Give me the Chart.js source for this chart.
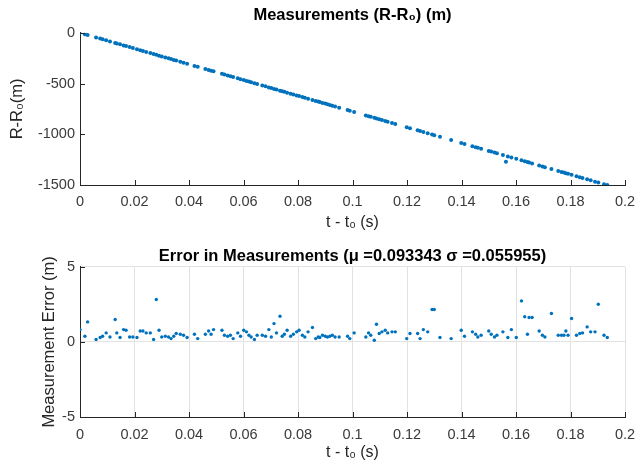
<!DOCTYPE html>
<html>
<head>
<meta charset="utf-8">
<script src="https://cdn.jsdelivr.net/npm/chart.js@4.4.1/dist/chart.umd.min.js"></script>
<style>
  body { margin: 0; background: #fff; }
  .box { position: absolute; left: 0; width: 637px; height: 235px; }
</style>
</head>
<body>
<div class="box" style="top:0"><canvas id="rangeChart"></canvas></div>
<div class="box" style="top:235px"><canvas id="errorChart"></canvas></div>
<script>
// sample times t - t0 (s)
const timeS = [
  0.0000, 0.0018, 0.0028, 0.0059, 0.0074, 0.0083, 0.0096, 0.0110, 0.0129, 0.0135,
  0.0147, 0.0160, 0.0169, 0.0182, 0.0194, 0.0209, 0.0221, 0.0231, 0.0243, 0.0258,
  0.0270, 0.0280, 0.0290, 0.0300, 0.0313, 0.0325, 0.0334, 0.0344, 0.0353, 0.0368,
  0.0380, 0.0393, 0.0420, 0.0432, 0.0460, 0.0472, 0.0481, 0.0490, 0.0521, 0.0530,
  0.0542, 0.0552, 0.0562, 0.0579, 0.0589, 0.0601, 0.0611, 0.0620, 0.0628, 0.0640,
  0.0650, 0.0669, 0.0681, 0.0693, 0.0702, 0.0712, 0.0721, 0.0734, 0.0742, 0.0750,
  0.0760, 0.0773, 0.0783, 0.0795, 0.0804, 0.0816, 0.0825, 0.0837, 0.0853, 0.0865,
  0.0874, 0.0880, 0.0890, 0.0900, 0.0908, 0.0917, 0.0926, 0.0936, 0.0951, 0.0982,
  0.0990, 0.1006, 0.1049, 0.1059, 0.1067, 0.1080, 0.1088, 0.1098, 0.1108, 0.1120,
  0.1129, 0.1145, 0.1157, 0.1199, 0.1211, 0.1239, 0.1248, 0.1260, 0.1276, 0.1292,
  0.1300, 0.1321, 0.1362, 0.1399, 0.1411, 0.1440, 0.1452, 0.1460, 0.1472, 0.1500,
  0.1509, 0.1521, 0.1530, 0.1552, 0.1570, 0.1583, 0.1601, 0.1620, 0.1632, 0.1642,
  0.1648, 0.1659, 0.1685, 0.1697, 0.1706, 0.1730, 0.1755, 0.1767, 0.1776, 0.1783,
  0.1791, 0.1804, 0.1822, 0.1834, 0.1844, 0.1861, 0.1874, 0.1890, 0.1902, 0.1923,
  0.1935
];

// measured R - R0 (m)
const rangeM = [
     0,   -14,   -22,   -46,   -57,   -64,   -74,   -85,  -100,  -105,
  -114,  -124,  -131,  -141,  -151,  -162,  -171,  -179,  -189,  -200,
  -210,  -217,  -225,  -233,  -243,  -252,  -259,  -267,  -274,  -286,
  -295,  -305,  -326,  -335,  -357,  -366,  -373,  -380,  -404,  -411,
  -421,  -428,  -436,  -449,  -457,  -466,  -474,  -481,  -487,  -497,
  -504,  -519,  -528,  -538,  -545,  -553,  -560,  -570,  -576,  -582,
  -590,  -600,  -608,  -617,  -624,  -633,  -640,  -650,  -662,  -671,
  -678,  -683,  -691,  -698,  -705,  -712,  -719,  -726,  -738,  -762,
  -768,  -781,  -814,  -822,  -828,  -838,  -844,  -852,  -860,  -869,
  -876,  -889,  -898,  -930,  -940,  -961,  -968,  -978,  -990, -1003,
 -1009, -1025, -1057, -1086, -1095, -1117, -1127, -1133, -1142, -1164,
 -1171, -1180, -1187, -1204, -1218, -1228, -1242, -1257, -1266, -1274,
 -1279, -1287, -1308, -1317, -1324, -1342, -1362, -1371, -1378, -1384,
 -1390, -1400, -1414, -1423, -1431, -1444, -1454, -1467, -1476, -1492,
 -1499
];

// one stray measurement below the line
const strayT = [0.1563];
const strayR = [-1270];

// measurement error (m)
const errM = [
  0.82, 0.38, 1.33, 0.16, 0.29, 0.38, 0.60, 0.33, 1.49, 0.60,
  0.29, 0.82, 0.78, 0.33, 0.33, 0.29, 0.73, 0.73, 0.60, 0.60,
  0.16, 2.82, 0.78, 0.33, 0.38, 0.33, 0.22, 0.38, 0.56, 0.51,
  0.44, 0.29, 0.51, 0.22, 0.51, 0.73, 0.51, 0.82, 0.78, 0.44,
  0.38, 0.44, 0.22, 0.60, 0.38, 0.78, 0.67, 0.44, 0.33, 0.16,
  0.44, 0.44, 0.38, 0.82, 0.33, 1.22, 0.60, 1.71, 0.38, 0.51,
  0.78, 0.38, 0.51, 0.67, 0.78, 0.44, 0.33, 0.67, 0.96, 0.22,
  0.33, 0.29, 0.44, 0.38, 0.33, 0.38, 0.44, 0.33, 0.33, 0.38,
  0.22, 0.60, 0.33, 0.60, 0.44, 0.11, 1.18, 0.56, 0.67, 0.78,
  0.60, 0.67, 0.67, 0.22, 0.56, 0.56, 0.22, 0.82, 0.67, 2.16,
  2.16, 0.29, 0.22, 0.78, 0.38, 0.67, 0.51, 0.33, 0.44, 0.73,
  0.51, 0.33, 0.44, 0.67, 0.29, 0.82, 0.29, 2.73, 1.67, 0.51,
  1.62, 1.62, 0.73, 0.44, 0.33, 1.89, 0.44, 0.44, 0.44, 0.73,
  0.44, 1.56, 0.44, 0.56, 0.60, 1.00, 0.67, 0.67, 2.51, 0.44,
  0.29
];

const xTitle = "t - t\u2080 (s)";
const blue = "#0072BD";
const axisColor = "#262626";
const fontFam = "'Liberation Sans', Arial, Helvetica, sans-serif";

// MATLAB style ticks pointing into the plot
const inwardTicks = {
  id: "inwardTicks",
  afterDraw(chart) {
    const { ctx, chartArea: a, scales } = chart;
    ctx.save();
    ctx.strokeStyle = axisColor;
    ctx.lineWidth = 1;
    ctx.beginPath();
    scales.x.ticks.forEach((t) => {
      const px = Math.round(scales.x.getPixelForValue(t.value)) + 0.5;
      ctx.moveTo(px, a.bottom);
      ctx.lineTo(px, a.bottom - 5);
    });
    scales.y.ticks.forEach((t) => {
      const py = Math.round(scales.y.getPixelForValue(t.value)) + 0.5;
      ctx.moveTo(a.left, py);
      ctx.lineTo(a.left + 5, py);
    });
    ctx.stroke();
    ctx.restore();
  },
};

function fmt(v) {
  return String(+Number(v).toFixed(2));
}

function xScale(showGrid, tickPad, titlePad, height) {
  return {
    type: "linear",
    min: 0,
    max: 0.2,
    ticks: {
      stepSize: 0.02,
      padding: tickPad,
      color: "#3a3a3a",
      font: { family: fontFam, size: 14.5 },
      callback: fmt,
      maxRotation: 0,
      autoSkip: false,
    },
    grid: { display: showGrid, color: "#e2e2e2", drawTicks: false },
    border: { display: true, color: axisColor, width: 1 },
    title: {
      display: true,
      text: xTitle,
      color: axisColor,
      font: { family: fontFam, size: 16, lineHeight: 1.2 },
      padding: { top: 0, bottom: titlePad },
    },
    afterFit(scale) {
      scale.height = height;
      scale.paddingLeft = 0;
      scale.paddingRight = 12;
    },
  };
}

function yScale(min, max, step, showGrid, label, titlePad) {
  return {
    min: min,
    max: max,
    ticks: {
      stepSize: step,
      padding: 5,
      color: "#3a3a3a",
      font: { family: fontFam, size: 14.5 },
      callback: fmt,
    },
    grid: { display: showGrid, color: "#e2e2e2", drawTicks: false },
    border: { display: true, color: axisColor, width: 1 },
    title: {
      display: true,
      text: label,
      color: axisColor,
      font: { family: fontFam, size: 16.5, lineHeight: 1.2 },
      padding: { top: titlePad, bottom: 0 },
    },
    afterFit(scale) {
      scale.width = 80;
    },
  };
}

function titleOpts(text, padTop, padBottom) {
  return {
    display: true,
    text: text,
    fullSize: false,
    color: "#000",
    font: { family: fontFam, size: 16.5, weight: "bold", lineHeight: 1.2 },
    padding: { top: padTop, bottom: padBottom },
  };
}

const rangePoints = timeS.map((t, i) => ({ x: t, y: rangeM[i] }));
strayT.forEach((t, i) => rangePoints.push({ x: t, y: strayR[i] }));

const rangeChart = new Chart(document.getElementById("rangeChart"), {
  type: "scatter",
  data: {
    datasets: [
      {
        data: rangePoints,
        backgroundColor: blue,
        borderWidth: 0,
        pointRadius: 2,
      },
    ],
  },
  options: {
    responsive: true,
    maintainAspectRatio: false,
    animation: false,
    layout: { padding: { left: 0, right: 12, top: 0, bottom: 0 } },
    plugins: {
      legend: { display: false },
      tooltip: { enabled: false },
      title: titleOpts("Measurements (R-R\u2080) (m)", 6, 7),
    },
    scales: {
      x: xScale(false, 8, 3, 50),
      y: yScale(-1500, 0, 500, false, "R-R\u2080(m)", 8),
    },
  },
  plugins: [inwardTicks],
});

const errorChart = new Chart(document.getElementById("errorChart"), {
  type: "scatter",
  data: {
    datasets: [
      {
        data: timeS.map((t, i) => ({ x: t, y: errM[i] })),
        backgroundColor: blue,
        borderWidth: 0,
        pointRadius: 1.7,
      },
    ],
  },
  options: {
    responsive: true,
    maintainAspectRatio: false,
    animation: false,
    layout: { padding: { left: 0, right: 12, top: 0, bottom: 0 } },
    plugins: {
      legend: { display: false },
      tooltip: { enabled: false },
      title: titleOpts("Error in Measurements (\u03bc =0.093343 \u03c3 =0.055955)", 12, 0),
    },
    scales: {
      x: xScale(true, 9, 8, 53),
      y: yScale(-5, 5, 5, true, "Measurement Error (m)", 40),
    },
  },
  plugins: [inwardTicks],
});
</script>
</body>
</html>
